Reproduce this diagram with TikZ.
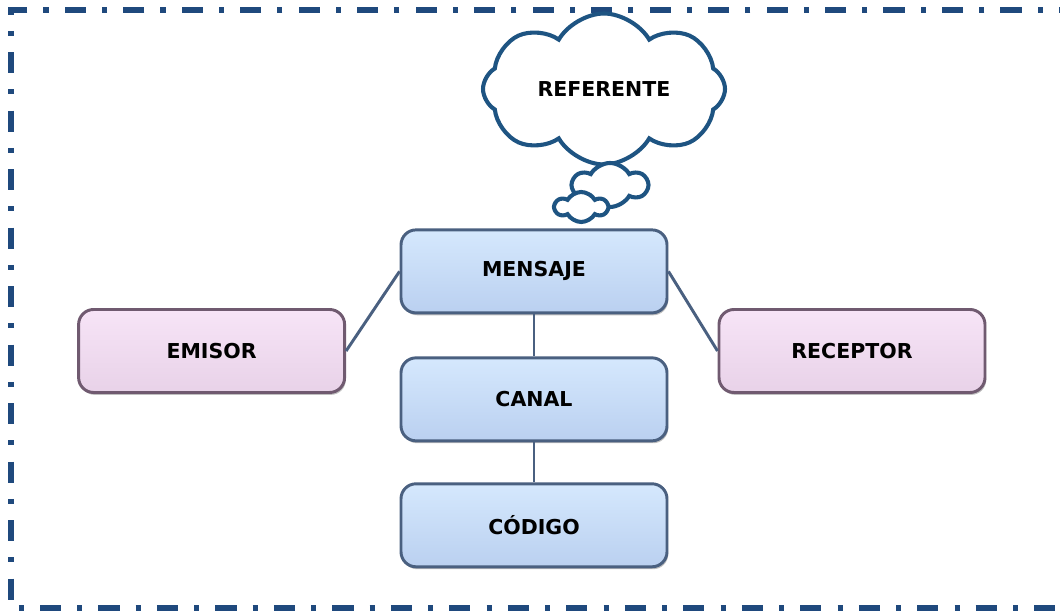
\documentclass[tikz,border=0pt]{standalone}
\usepackage{fontspec}
\setmainfont{DejaVu Sans}
\usetikzlibrary{positioning,shapes.symbols,shadows}
\definecolor{frameblue}{RGB}{31,73,125}
\definecolor{lineblue}{RGB}{74,96,128}
\definecolor{boxtop}{RGB}{213,232,253}
\definecolor{boxbot}{RGB}{186,208,240}
\definecolor{pinktop}{RGB}{247,228,247}
\definecolor{pinkbot}{RGB}{232,210,232}
\definecolor{pinkline}{RGB}{112,90,112}
\definecolor{cloudblue}{RGB}{30,84,130}

\begin{document}
\begin{tikzpicture}[
    box/.style={rounded corners=0.375cm, minimum width=6.65cm, minimum height=2.075cm,
        draw=lineblue, line width=2.1pt, top color=boxtop, middle color=boxtop, bottom color=boxbot,
        font=\fontsize{14.6}{17}\selectfont\bfseries,
        drop shadow={shadow xshift=0.03cm, shadow yshift=-0.06cm, opacity=0.25, fill=black}},
    pinkbox/.style={box, draw=pinkline, top color=pinktop, middle color=pinktop, bottom color=pinkbot},
    link/.style={draw=lineblue, line width=2.1pt},
    puff/.style={cloud, cloud puffs=8, cloud puff arc=120, aspect=1.6, draw=cloudblue,
        line width=2.9pt, fill=white, inner sep=0pt, font=\fontsize{14.6}{17}\selectfont\bfseries},
    frame/.style={draw=frameblue, line width=3.6pt,
        dash pattern=on 15pt off 11.5pt on 3.6pt off 11.5pt},
]
    \useasboundingbox (0,0) rectangle (26.5,15.275);

    \draw [frame] (27,15.025) -- (0.275,15.025) -- (0.275,0.075) -- (27,0.075);

    \node [box] (mensaje) at (13.35,8.49) {MENSAJE};
    \node [box, below=1.05cm of mensaje] (canal) {CANAL};
    \node [box, below=1.0cm of canal] (codigo) {CÓDIGO};
    \node [pinkbox] (emisor) at (5.29,6.5) {EMISOR};
    \node [pinkbox] (receptor) at (21.3,6.5) {RECEPTOR};

    \draw [link] (mensaje.west) -- (emisor.east);
    \draw [link] (mensaje.east) -- (receptor.west);
    \draw [link] (mensaje) -- (canal);
    \draw [link] (canal) -- (codigo);

    \node [puff, minimum width=6.05cm, minimum height=3.775cm] (referente) at (15.1,13.05) {REFERENTE};
    \node [puff, cloud puffs=6, minimum width=1.85cm, minimum height=1.1cm] (puff mid) at (15.25,10.65) {};
    \node [puff, cloud puffs=6, minimum width=1.3cm, minimum height=0.75cm] (puff small) at (14.53,10.1) {};
\end{tikzpicture}
\end{document}
